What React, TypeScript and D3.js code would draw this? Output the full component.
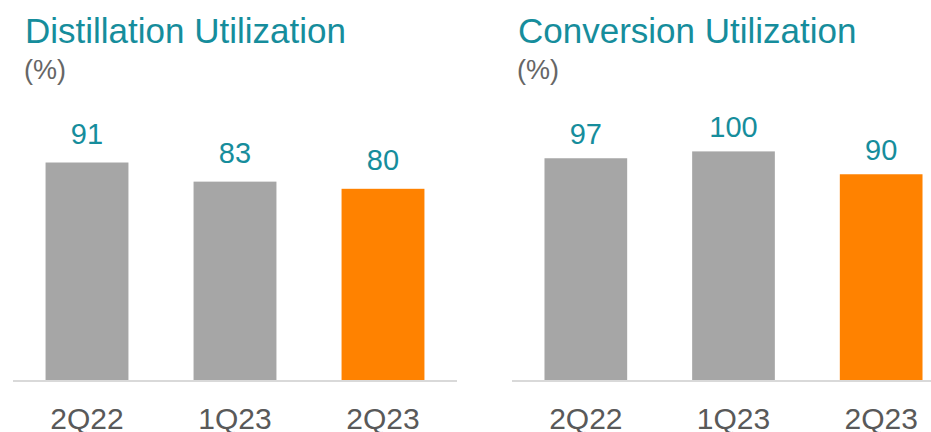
import React from "react";
import * as d3 from "d3";

const categories = ["2Q22", "1Q23", "2Q23"];
const distillationValues = [91, 83, 80];
const conversionValues = [97, 100, 90];
const titles = ["Distillation Utilization", "Conversion Utilization"];
const unitLabel = "(%)";

const W = 931;
const H = 432;
const TEAL = "#168d9c";
const GRAY_BAR = "#a6a6a6";
const ORANGE = "#ff8200";
const AXIS = "#d9d9d9";
const TEXT_GRAY = "#595959";
const FONT = "Liberation Sans";

type PanelProps = {
  title: string;
  values: number[];
  x0: number;
  x1: number;
  axisEnd: number;
  titleX: number;
  pxPerUnit: number;
  labelGap: number;
};

function Panel({ title, values, x0, x1, axisEnd, titleX, pxPerUnit, labelGap }: PanelProps) {
  const baseline = 380;
  const x = d3.scaleBand<string>().domain(categories).range([x0, x1]).paddingInner(0.44).paddingOuter(0.22);
  const y = d3.scaleLinear().domain([0, 100]).range([baseline, baseline - 100 * pxPerUnit]);
  return (
    <g>
      <text x={titleX} y={42.5} fontSize={35} fill={TEAL} fontFamily={FONT}>
        {title}
      </text>
      <text x={titleX - 1} y={79} fontSize={27} fill="#666666" fontFamily={FONT}>
        {unitLabel}
      </text>
      {categories.map((c, i) => (
        <rect
          key={c}
          x={x(c)}
          y={y(values[i])}
          width={x.bandwidth()}
          height={baseline - y(values[i])}
          fill={i === categories.length - 1 ? ORANGE : GRAY_BAR}
        />
      ))}
      <line x1={x0} x2={axisEnd} y1={baseline + 1} y2={baseline + 1} stroke={AXIS} strokeWidth={2} />
      {categories.map((c, i) => (
        <text
          key={"v" + c}
          x={(x(c) as number) + x.bandwidth() / 2}
          y={y(values[i]) - labelGap}
          fontSize={29}
          fill={TEAL}
          textAnchor="middle"
          fontFamily={FONT}
        >
          {values[i]}
        </text>
      ))}
      {categories.map((c) => (
        <text
          key={"c" + c}
          x={(x(c) as number) + x.bandwidth() / 2}
          y={429}
          fontSize={30}
          fill={TEXT_GRAY}
          textAnchor="middle"
          fontFamily={FONT}
        >
          {c}
        </text>
      ))}
    </g>
  );
}

export default function App() {
  return (
    <svg
      width={W}
      height={H}
      style={{ position: "absolute", left: 0, top: 0, background: "#ffffff" }}
    >
      <rect x={0} y={0} width={W} height={H} fill="#ffffff" />
      <Panel title={titles[0]} values={distillationValues} x0={13} x1={457} axisEnd={457} titleX={25} pxPerUnit={2.39} labelGap={19} />
      <Panel title={titles[1]} values={conversionValues} x0={512} x1={955} axisEnd={931} titleX={518} pxPerUnit={2.286} labelGap={14} />
    </svg>
  );
}
